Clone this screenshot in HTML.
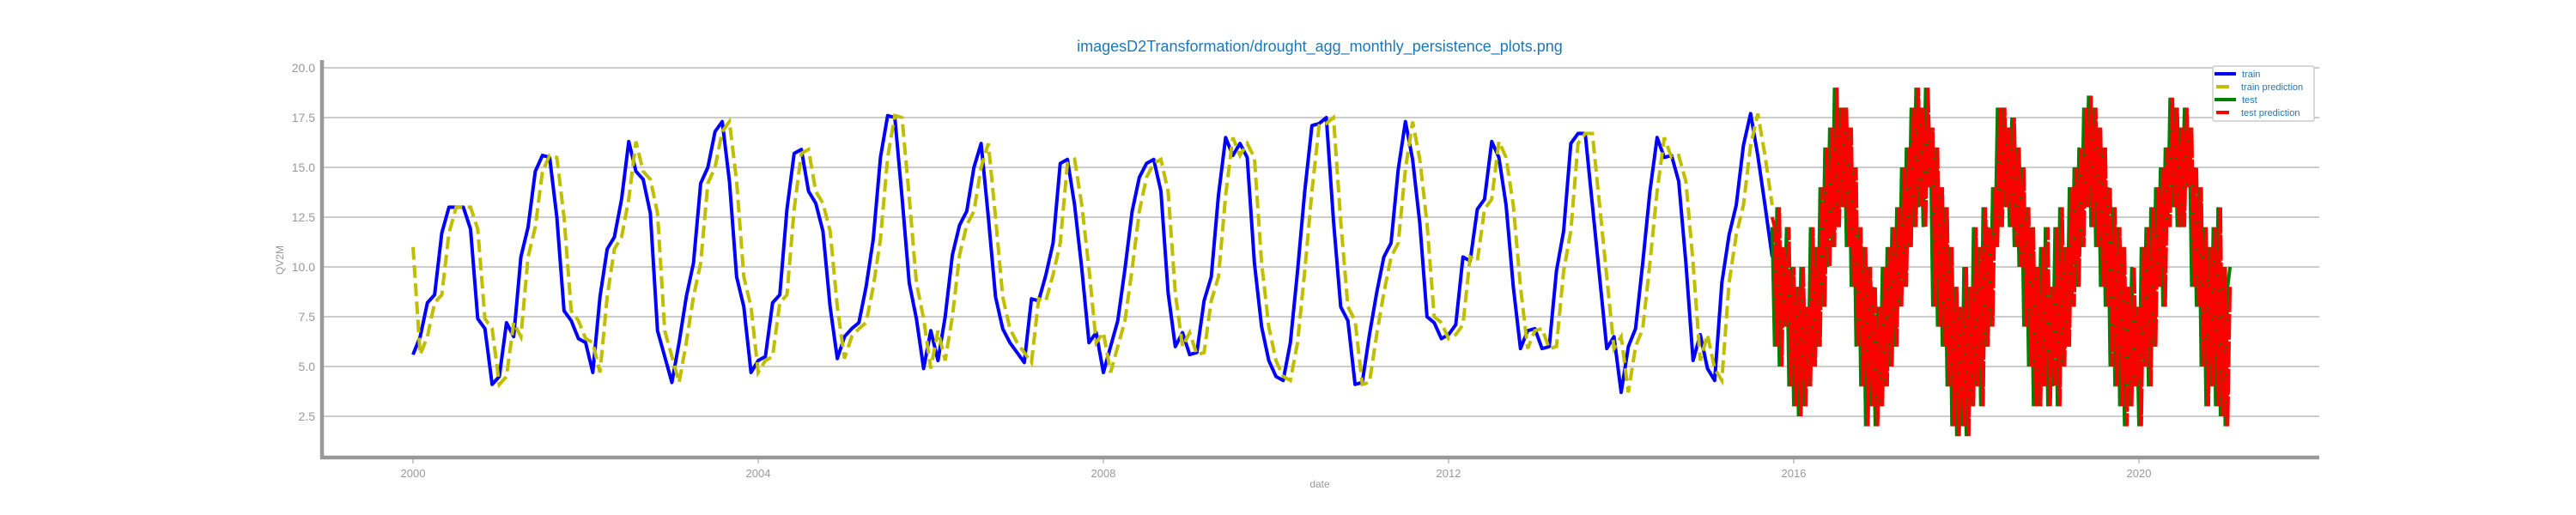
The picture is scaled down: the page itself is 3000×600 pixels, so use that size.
<!DOCTYPE html>
<html><head><meta charset="utf-8"><style>
html,body{margin:0;padding:0;background:#fff;}
svg{display:block;font-family:"Liberation Sans",sans-serif;}
</style></head><body>
<svg id="chart" width="3000" height="600" viewBox="0 0 3000 600">
<text x="1537" y="60" text-anchor="middle" font-size="18" fill="#1f77b4">imagesD2Transformation/drought_agg_monthly_persistence_plots.png</text>
<g id="grid"></g>
<g id="yticks"></g>
<g id="xticks"></g>
<g id="series"></g>
<line x1="375" y1="70" x2="375" y2="535" stroke="#999" stroke-width="4.5"/>
<line x1="373" y1="533" x2="2701" y2="533" stroke="#999" stroke-width="4.5"/>
<text transform="translate(330,303) rotate(-90)" text-anchor="middle" font-size="12" fill="#999">QV2M</text>
<text x="1537" y="568" text-anchor="middle" font-size="12" fill="#999">date</text>
<g>
<rect x="2577" y="77" width="118" height="64" fill="#fff" stroke="#ccc" stroke-width="1.5" rx="2"/>
<g><line x1="2579" y1="86" x2="2604" y2="86" stroke="#0000ff" stroke-width="4"/><text x="2611" y="90" font-size="11" fill="#1f77b4">train</text></g>
<g><line x1="2581" y1="101" x2="2596" y2="101" stroke="#bfbf00" stroke-width="4"/><text x="2610" y="105" font-size="11" fill="#1f77b4">train prediction</text></g>
<g><line x1="2579" y1="116" x2="2604" y2="116" stroke="#008000" stroke-width="4"/><text x="2611" y="120" font-size="11" fill="#1f77b4">test</text></g>
<g><line x1="2581" y1="131" x2="2596" y2="131" stroke="#ff0000" stroke-width="4"/><text x="2610" y="135" font-size="11" fill="#1f77b4">test prediction</text></g>
</g>
</svg>
<script>
const yTicks = [2.5, 5.0, 7.5, 10.0, 12.5, 15.0, 17.5, 20.0];
const xTicks = [2000, 2004, 2008, 2012, 2016, 2020];
const trainStart = 2000.0;
const train = [
5.6,6.5,8.2,8.6,11.7,13.0,13.0,13.0,11.9,7.4,6.9,4.1,
4.5,7.2,6.5,10.5,12.0,14.8,15.6,15.5,12.5,7.8,7.3,6.4,
6.2,4.7,8.5,10.9,11.5,13.4,16.3,14.8,14.4,12.7,6.8,5.5,
4.2,6.2,8.5,10.2,14.2,15.0,16.8,17.3,14.3,9.5,8.0,4.7,
5.3,5.5,8.2,8.6,12.9,15.7,15.9,13.8,13.2,11.8,8.0,5.4,
6.5,6.9,7.2,9.0,11.4,15.5,17.6,17.5,13.5,9.2,7.4,4.9,
6.8,5.3,7.5,10.6,12.1,12.8,15.0,16.2,12.5,8.5,6.9,6.2,
5.7,5.2,8.4,8.3,9.6,11.2,15.2,15.4,13.1,9.9,6.2,6.7,
4.7,6.0,7.3,9.9,12.8,14.5,15.2,15.4,13.8,8.7,6.0,6.7,
5.6,5.7,8.3,9.5,13.6,16.5,15.6,16.2,15.5,10.2,7.0,5.3,
4.5,4.3,6.2,9.8,13.8,17.1,17.2,17.5,12.3,8.0,7.3,4.1,
4.2,6.6,8.7,10.5,11.2,14.9,17.3,15.4,12.2,7.5,7.2,6.4,
6.6,7.1,10.5,10.3,12.9,13.4,16.3,15.5,13.1,9.0,5.9,6.8,
6.9,5.9,6.0,9.8,11.8,16.2,16.7,16.7,13.1,9.5,5.9,6.5,
3.7,6.0,6.9,10.2,13.8,16.5,15.5,15.6,14.3,10.2,5.3,6.6,
4.9,4.3,9.2,11.6,13.1,16.1,17.7,15.6,13.1,10.5
];
const trainPred = [
11.0,5.6,6.5,8.2,8.6,11.7,13.0,13.0,13.0,11.9,7.4,6.9,
4.1,4.5,7.2,6.5,10.5,12.0,14.8,15.6,15.5,12.5,7.8,7.3,
6.4,6.2,4.7,8.5,10.9,11.5,13.4,16.3,14.8,14.4,12.7,6.8,
5.5,4.2,6.2,8.5,10.2,14.2,15.0,16.8,17.3,14.3,9.5,8.0,
4.7,5.3,5.5,8.2,8.6,12.9,15.7,15.9,13.8,13.2,11.8,8.0,
5.4,6.5,6.9,7.2,9.0,11.4,15.5,17.6,17.5,13.5,9.2,7.4,
4.9,6.8,5.3,7.5,10.6,12.1,12.8,15.0,16.2,12.5,8.5,6.9,
6.2,5.7,5.2,8.4,8.3,9.6,11.2,15.2,15.4,13.1,9.9,6.2,
6.7,4.7,6.0,7.3,9.9,12.8,14.5,15.2,15.4,13.8,8.7,6.0,
6.7,5.6,5.7,8.3,9.5,13.6,16.5,15.6,16.2,15.5,10.2,7.0,
5.3,4.5,4.3,6.2,9.8,13.8,17.1,17.2,17.5,12.3,8.0,7.3,
4.1,4.2,6.6,8.7,10.5,11.2,14.9,17.3,15.4,12.2,7.5,7.2,
6.4,6.6,7.1,10.5,10.3,12.9,13.4,16.3,15.5,13.1,9.0,5.9,
6.8,6.9,5.9,6.0,9.8,11.8,16.2,16.7,16.7,13.1,9.5,5.9,
6.5,3.7,6.0,6.9,10.2,13.8,16.5,15.5,15.6,14.3,10.2,5.3,
6.6,4.9,4.3,9.2,11.6,13.1,16.1,17.7,15.6,13.1
];
const testStart = 2015.75;
const test = [
12,6,13, 5,11,7, 12,4,10,
3,9,2.5, 10,3,8, 4,12,5, 11,6,14, 8,16,10, 17,11,19, 12,18,13, 18,11,17, 9,15,6, 12,4,11, 2,10,3, 9,2,8,
3,10,4, 11,5,12, 6,13,8, 15,9,16, 11,18,12, 19,13,18, 12,19,14, 17,8,16, 7,14,6, 13,4,11, 2,9,1.5, 8,2,10,
1.5,9,3, 12,4,11, 3,13,6, 12,7,14, 11,18,12, 18,13,17, 12,17.5,11, 16,10,15, 7,13,5, 12,3,10, 3,11,4, 12,3,9,
4,12,3, 13,5,11, 6,14,8, 15,9,16, 11,18,13, 18.6,12,18, 11,17,9, 16,8,14, 5,13,4, 12,3,11, 2,9,3, 10,4,8,
2,11,5, 12,4,13, 6,14,9, 15,8,16, 12,18.5,13, 18,12,17, 12,18,14, 17,9,15, 8,14,5, 12,3,11, 4,12,3, 13,2.5,10,
2,9,10
];
const testPred = [
12.5,12,6, 13,5,11, 7,12,4,
10,3,9, 2.5,10,3, 8,4,12, 5,11,6, 14,8,16, 10,17,11, 19,12,18, 13,18,11, 17,9,15, 6,12,4, 11,2,10, 3,9,2,
8,3,10, 4,11,5, 12,6,13, 8,15,9, 16,11,18, 12,19,13, 18,12,19, 14,17,8, 16,7,14, 6,13,4, 11,2,9, 1.5,8,2,
10,1.5,9, 3,12,4, 11,3,13, 6,12,7, 14,11,18, 12,18,13, 17,12,17.5, 11,16,10, 15,7,13, 5,12,3, 10,3,11, 4,12,3,
9,4,12, 3,13,5, 11,6,14, 8,15,9, 16,11,18, 13,18.6,12, 18,11,17, 9,16,8, 14,5,13, 4,12,3, 11,2,9, 3,10,4,
8,2,11, 5,12,4, 13,6,14, 9,15,8, 16,12,18.5, 13,18,12, 17,12,18, 14,17,9, 15,8,14, 5,12,3, 11,4,12, 3,13,2.5,
10,2,9
];

const X0 = 481, PXYR = 100.5;
const Y0 = 79, PXU = 23.2;
function xs(t){ return X0 + (t - 2000) * PXYR; }
function ys(v){ return Y0 + (20 - v) * PXU; }
const NS = 'http://www.w3.org/2000/svg';
function mk(tag, attrs, parent){
  const e = document.createElementNS(NS, tag);
  for (const k in attrs) e.setAttribute(k, attrs[k]);
  parent.appendChild(e);
  return e;
}
const grid = document.getElementById('grid');
const yt = document.getElementById('yticks');
yTicks.forEach(v => {
  const l = mk('line', {x1:377, x2:2701, y1:ys(v), y2:ys(v), stroke:'#cccccc', 'stroke-width':2}, grid);
  
  
  const t = mk('text', {x:367, y:ys(v)+5, 'text-anchor':'end', 'font-size':14, fill:'#999'}, yt);
  t.textContent = v.toFixed(1);
  
  
});
const xt = document.getElementById('xticks');
xTicks.forEach(y => {
  const tk = mk('line', {x1:xs(y), x2:xs(y), y1:535, y2:540, stroke:'#999', 'stroke-width':1}, xt);
  
  
  const t = mk('text', {x:xs(y), y:556, 'text-anchor':'middle', 'font-size':13, fill:'#999'}, xt);
  t.textContent = String(y);
  
  
});
function path(arr, start, step){
  return arr.map((v,i) => (i ? 'L' : 'M') + xs(start + i*step).toFixed(2) + ',' + ys(v).toFixed(2)).join('');
}
const sg = document.getElementById('series');
const p1 = mk('path', {d:path(train, trainStart, 1/12), fill:'none', stroke:'#0000ff', 'stroke-width':4, 'stroke-linejoin':'round'}, sg);


const p2 = mk('path', {d:path(trainPred, trainStart, 1/12), fill:'none', stroke:'#bfbf00', 'stroke-width':4, 'stroke-dasharray':'14.8 6.4'}, sg);


const p3 = mk('path', {d:path(test, testStart, 1/36), fill:'none', stroke:'#008000', 'stroke-width':4}, sg);


const p4 = mk('path', {d:path(testPred, testStart, 1/36), fill:'none', stroke:'#ff0000', 'stroke-width':4, 'stroke-dasharray':'30 2'}, sg);


</script>
</body></html>
